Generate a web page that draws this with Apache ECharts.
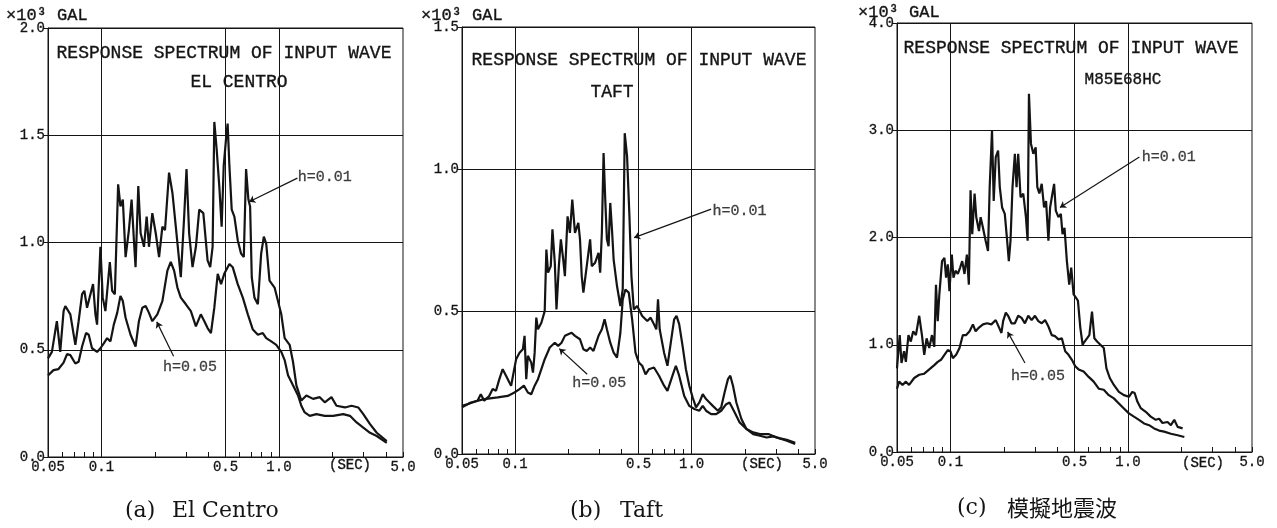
<!DOCTYPE html>
<html>
<head>
<meta charset="utf-8">
<title>Response spectrum of input wave</title>
<script src="https://cdn.jsdelivr.net/npm/echarts@6/dist/echarts.min.js"></script>
<style>
  html, body { margin: 0; padding: 0; background: #fff; }
  #main { width: 1277px; height: 528px; }
</style>
</head>
<body>
<div id="main"></div>
<script>
// ---- axis ticks (period, sec) ----
var xTickValues = [0.05, 0.06, 0.07, 0.08, 0.09, 0.1, 0.2, 0.3, 0.4, 0.5, 0.6, 0.7, 0.8, 0.9, 1, 2, 3, 4, 5];
var xLabelValues = [0.05, 0.1, 0.5, 1.0, 5.0];
var xLabelText = ['0.05', '0.1', '0.5', '1.0', '5.0'];
var xGridValues = [0.1, 0.5, 1.0];

// ---- (a) El Centro ----
var elCentroT01 = [0.05,0.0526,0.0549,0.0561,0.0586,0.0612,0.0626,0.0668,0.0713,0.0744,
  0.0778,0.0801,0.083,0.0867,0.0897,0.0925,0.0945,0.0987,0.1017,0.1053,
  0.1115,0.1149,0.119,0.1242,0.128,0.132,0.1368,0.1428,0.1479,0.1524,
  0.1557,0.1613,0.1663,0.1737,0.1798,0.1853,0.1935,0.2023,0.2112,0.2205,
  0.2281,0.2404,0.2512,0.2624,0.28,0.2925,0.3015,0.312,0.326,0.3406,
  0.3557,0.375,0.3963,0.41,0.423,0.4325,0.4457,0.4613,0.4756,0.4885,
  0.5035,0.514,0.526,0.542,0.561,0.586,0.612,0.634,0.653,0.673,
  0.688,0.703,0.728,0.761,0.794,0.822,0.848,0.885,0.945,0.987,
  1.031,1.077,1.149,1.2,1.254,1.337,1.428,1.557,1.698,1.812,
  1.977,2.11,2.354,2.566,2.798,2.987,3.26,3.556,4.05];
var elCentroA01 = [0.46,0.49,0.586,0.633,0.49,0.68,0.704,0.665,0.523,0.633,
  0.759,0.775,0.696,0.759,0.806,0.665,0.617,0.98,0.743,0.68,
  0.909,0.775,0.759,1.271,1.168,1.2,0.932,1.058,1.2,1.011,
  0.885,1.263,1.043,0.98,1.121,0.98,1.137,1.043,0.932,1.074,
  1.058,1.326,1.231,1.074,0.838,1.121,1.342,1.043,0.885,0.98,
  1.153,1.137,0.917,0.885,0.98,1.562,1.436,1.263,1.074,1.357,
  1.483,1.554,1.357,1.153,1.121,1.011,0.948,0.932,1.342,1.2,
  1.168,0.838,0.743,0.712,0.948,1.027,0.995,0.822,0.79,0.728,
  0.665,0.554,0.523,0.444,0.334,0.263,0.287,0.271,0.279,0.255,
  0.279,0.239,0.231,0.239,0.231,0.2,0.153,0.113,0.074];
var elCentroT05 = [0.05,0.0537,0.0573,0.0612,0.064,0.0668,0.0713,0.0744,0.0778,0.0819,
  0.0848,0.0885,0.0945,0.0987,0.1031,0.1077,0.1124,0.1174,0.1227,0.128,
  0.132,0.1368,0.1459,0.1557,0.1626,0.17,0.1775,0.1853,0.1935,0.2065,
  0.2205,0.2353,0.2458,0.2567,0.268,0.28,0.299,0.319,0.3406,0.363,
  0.38,0.3963,0.414,0.4325,0.452,0.472,0.492,0.526,0.549,0.586,
  0.626,0.668,0.713,0.761,0.811,0.848,0.905,0.966,1.031,1.077,
  1.125,1.2,1.281,1.337,1.397,1.492,1.626,1.812,2.02,2.303,
  2.512,2.74,2.987,3.26,3.556,4.05];
var elCentroA05 = [0.38,0.405,0.41,0.44,0.48,0.475,0.436,0.444,0.515,0.578,
  0.57,0.507,0.49,0.507,0.53,0.554,0.539,0.617,0.672,0.751,
  0.727,0.649,0.57,0.515,0.633,0.696,0.704,0.672,0.633,0.665,
  0.727,0.869,0.909,0.869,0.79,0.743,0.712,0.68,0.609,0.665,
  0.633,0.601,0.578,0.696,0.854,0.806,0.854,0.9,0.885,0.806,
  0.743,0.665,0.594,0.57,0.578,0.554,0.539,0.523,0.49,0.452,
  0.381,0.334,0.287,0.239,0.208,0.192,0.2,0.192,0.192,0.2,
  0.192,0.161,0.137,0.113,0.098,0.066];

// ---- (b) Taft ----
var taftT01 = [0.05,0.0536,0.0573,0.0612,0.0639,0.0668,0.0713,0.0746,0.0779,0.0814,
  0.085,0.0888,0.0928,0.0949,0.1013,0.1059,0.1106,0.1131,0.1156,0.1181,
  0.1234,0.1262,0.129,0.1318,0.1347,0.1408,0.1471,0.1503,0.1537,0.1592,
  0.1627,0.1678,0.1715,0.1769,0.1816,0.1873,0.1914,0.1982,0.2044,0.2108,
  0.2183,0.2281,0.2331,0.2384,0.2436,0.2545,0.266,0.2718,0.284,0.2968,
  0.3033,0.31,0.317,0.324,0.3311,0.3384,0.3459,0.3537,0.3615,0.3777,
  0.3947,0.407,0.4178,0.4308,0.4442,0.456,0.4703,0.4914,0.5248,0.5607,
  0.5858,0.6119,0.631,0.645,0.6592,0.698,0.7294,0.762,0.796,0.821,
  0.85,0.8885,0.928,0.97,1.013,1.059,1.106,1.156,1.207,1.262,
  1.318,1.408,1.471,1.537,1.606,1.656,1.715,1.792,1.914,2.044,
  2.232,2.436,2.66,2.904,3.17,3.46,3.86];
var taftA01 = [0.169,0.175,0.181,0.187,0.21,0.187,0.204,0.228,0.222,0.263,
  0.298,0.275,0.251,0.24,0.333,0.356,0.368,0.415,0.263,0.345,
  0.321,0.286,0.356,0.479,0.438,0.461,0.502,0.718,0.637,0.66,
  0.789,0.672,0.508,0.66,0.754,0.683,0.625,0.835,0.777,0.894,
  0.777,0.812,0.754,0.625,0.567,0.66,0.754,0.66,0.672,0.707,
  0.637,0.777,1.057,0.894,0.754,0.73,0.882,0.789,0.683,0.59,
  0.52,0.578,1.127,1.046,0.835,0.625,0.508,0.52,0.485,0.467,
  0.479,0.456,0.438,0.543,0.438,0.356,0.31,0.391,0.473,0.485,
  0.456,0.38,0.298,0.24,0.199,0.164,0.181,0.21,0.193,0.181,
  0.169,0.152,0.164,0.216,0.263,0.275,0.24,0.181,0.123,0.088,
  0.07,0.064,0.058,0.062,0.055,0.05,0.039];
var taftT05 = [0.05,0.0561,0.0668,0.0796,0.0908,0.0991,0.1059,0.1121,0.1181,0.1234,
  0.129,0.1347,0.1408,0.1471,0.1571,0.1678,0.1753,0.1832,0.1914,0.2089,
  0.2183,0.2331,0.2436,0.2545,0.266,0.2779,0.2968,0.31,0.3212,0.3311,
  0.3459,0.3615,0.3777,0.3947,0.407,0.4215,0.4404,0.4602,0.4808,0.5023,
  0.5248,0.5483,0.5731,0.6119,0.6535,0.698,0.7294,0.779,0.814,0.85,
  0.908,0.97,1.036,1.106,1.156,1.207,1.29,1.377,1.471,1.57,
  1.64,1.754,1.871,2.044,2.232,2.436,2.72,3.03,3.46,3.86];
var taftA05 = [0.164,0.181,0.193,0.199,0.204,0.216,0.228,0.24,0.216,0.21,
  0.24,0.263,0.298,0.333,0.374,0.391,0.38,0.391,0.415,0.426,
  0.415,0.403,0.368,0.362,0.374,0.362,0.415,0.438,0.473,0.438,
  0.391,0.356,0.339,0.426,0.543,0.578,0.567,0.473,0.356,0.321,
  0.31,0.28,0.298,0.304,0.275,0.24,0.222,0.275,0.31,0.275,
  0.204,0.169,0.158,0.152,0.169,0.152,0.14,0.14,0.152,0.175,
  0.181,0.146,0.111,0.088,0.076,0.07,0.07,0.058,0.047,0.035];

// ---- (c) simulated wave M85E68HC ----
var simT01 = [0.05,0.0518,0.053,0.0548,0.0561,0.058,0.0598,0.0617,0.0639,0.0667,
  0.0691,0.0712,0.0734,0.076,0.0787,0.0811,0.0829,0.0848,0.0866,0.0897,
  0.0925,0.0945,0.0966,0.0987,0.1018,0.104,0.1068,0.1101,0.1134,0.1165,
  0.12,0.1238,0.127,0.1298,0.1327,0.1368,0.1398,0.1448,0.148,0.1525,
  0.1579,0.1628,0.1664,0.1715,0.1753,0.18,0.1856,0.1897,0.1955,0.2024,
  0.2087,0.2133,0.218,0.2237,0.2307,0.2358,0.2409,0.2484,0.2572,0.2663,
  0.2722,0.2769,0.2842,0.2931,0.3021,0.3087,0.3169,0.3268,0.3369,0.3458,
  0.3565,0.3643,0.3756,0.3838,0.3923,0.4061,0.4188,0.428,0.4393,0.4529,
  0.4669,0.4792,0.4941,0.5093,0.5228,0.5391,0.5557,0.5703,0.5881,0.6062,
  0.6275,0.6471,0.6701,0.6998,0.7309,0.7568,0.7904,0.833,0.8892,0.9491,
  1.013,1.058,1.091,1.13,1.18,1.26,1.344,1.435,1.499,1.566,
  1.672,1.746,1.824,1.905,2.033];
var simA01 = [0.78,1.09,0.83,0.94,0.84,1.09,1.03,1.125,1.09,1.27,
  1.09,0.906,1.06,0.97,1.09,0.98,1.56,1.22,1.47,1.78,
  1.81,1.625,1.75,1.5,1.84,1.625,1.69,1.66,1.72,1.78,
  1.66,1.84,1.56,2.44,2.03,2.41,2.19,2.06,2.19,2.09,
  1.97,1.875,2.47,3.0,2.34,2.75,2.81,2.47,2.28,2.22,
  1.97,1.78,1.97,2.47,2.78,2.47,2.78,2.375,2.41,2.19,
  1.97,3.34,2.875,2.78,2.84,2.47,2.41,2.5,2.28,2.34,
  1.97,2.28,2.41,2.5,2.25,2.19,2.22,2.03,2.09,1.78,
  1.56,1.72,1.47,1.44,1.41,1.16,1.0,1.03,1.06,1.09,
  1.31,1.06,1.03,1.0,0.97,0.78,0.69,0.625,0.56,0.53,
  0.515,0.56,0.55,0.47,0.41,0.375,0.33,0.3,0.31,0.27,
  0.28,0.25,0.3,0.234,0.22];
var simT05 = [0.05,0.0514,0.0537,0.0561,0.0585,0.0625,0.0667,0.0712,0.076,0.0811,
  0.0848,0.0885,0.0925,0.0966,0.1,0.1031,0.1077,0.1125,0.1175,0.1227,
  0.1282,0.1339,0.1386,0.1448,0.1525,0.1607,0.1701,0.18,0.188,0.1938,
  0.1981,0.2051,0.2114,0.2208,0.2307,0.2409,0.2516,0.2628,0.2745,0.2867,
  0.2995,0.3128,0.3268,0.3413,0.3565,0.3723,0.3889,0.4061,0.4243,0.4432,
  0.4628,0.4834,0.5049,0.5274,0.563,0.6009,0.6413,0.6847,0.7309,0.7801,
  0.833,0.8892,0.9491,1.013,1.081,1.154,1.232,1.316,1.404,1.499,
  1.6,1.746,1.905,2.078];
var simA05 = [0.59,0.656,0.625,0.656,0.625,0.69,0.72,0.73,0.77,0.81,
  0.84,0.86,0.906,0.95,0.94,0.875,0.906,0.97,1.09,1.09,
  1.125,1.19,1.125,1.16,1.19,1.2,1.19,1.23,1.16,1.11,
  1.22,1.3,1.27,1.2,1.2,1.27,1.25,1.2,1.27,1.23,
  1.27,1.22,1.2,1.23,1.17,1.09,1.08,1.05,1.06,0.94,
  0.906,0.86,0.8,0.77,0.75,0.7,0.656,0.59,0.58,0.53,
  0.5,0.453,0.406,0.36,0.33,0.3,0.266,0.25,0.22,0.2,
  0.19,0.17,0.156,0.14];

// leader notes: label anchor, line start, line tip
var elCentroNotes = [
  { text: 'h=0.01', at: [1.81, 1.305], from: [1.27, 1.30], to: [0.68, 1.19] },
  { text: 'h=0.05', at: [0.315, 0.42], from: [0.255, 0.47], to: [0.205, 0.63] }
];
var taftNotes = [
  { text: 'h=0.01', at: [1.87, 0.855], from: [1.29, 0.86], to: [0.472, 0.76] },
  { text: 'h=0.05', at: [0.30, 0.249], from: [0.256, 0.28], to: [0.178, 0.37] }
];
var simNotes = [
  { text: 'h=0.01', at: [1.70, 2.75], from: [1.16, 2.75], to: [0.414, 2.28] },
  { text: 'h=0.05', at: [0.311, 0.71], from: [0.263, 0.83], to: [0.21, 1.12] }
];

var ink = '#141414';
var mono = '"Liberation Mono", "DejaVu Sans Mono", monospace';
var serif = '"DejaVu Serif", "Liberation Serif", serif';

var chart = echarts.init(document.getElementById('main'));

var panels = [
  { left: 48, top: 28, width: 355, height: 429, yMax: 2.0, yStep: 0.5,
    s01: [elCentroT01, elCentroA01], s05: [elCentroT05, elCentroA05], notes: elCentroNotes },
  { left: 462, top: 27, width: 353, height: 427, yMax: 1.5, yStep: 0.5,
    s01: [taftT01, taftA01], s05: [taftT05, taftA05], notes: taftNotes },
  { left: 897, top: 23, width: 355, height: 429, yMax: 4.0, yStep: 1.0,
    s01: [simT01, simA01], s05: [simT05, simA05], notes: simNotes }
];

function zip(ts, vs) {
  return ts.map(function (t, i) { return [t, vs[i]]; });
}

var grids = [], xAxes = [], yAxes = [], series = [];

panels.forEach(function (p, i) {
  grids.push({
    left: p.left, top: p.top, width: p.width, height: p.height,
    show: true, borderColor: ink, borderWidth: 1, backgroundColor: 'transparent'
  });
  xAxes.push({
    type: 'log', logBase: 10, gridIndex: i, min: 0.05, max: 5,
    axisLine: { show: true, lineStyle: { color: ink, width: 1 } },
    axisTick: { show: true, inside: true, length: 5, customValues: xTickValues,
      lineStyle: { color: ink, width: 1 } },
    axisLabel: {
      customValues: xLabelValues, margin: 3,
      color: ink, fontFamily: mono, fontSize: 14,
      textBorderColor: ink, textBorderWidth: 0.3,
      formatter: function (v) {
        var k = xLabelValues.indexOf(+v);
        return k >= 0 ? xLabelText[k] : '';
      }
    },
    splitLine: { show: false },
    minorTick: { show: false }
  });
  yAxes.push({
    type: 'value', gridIndex: i, min: 0, max: p.yMax, interval: p.yStep,
    axisLine: { show: true, lineStyle: { color: ink, width: 1 } },
    axisTick: { show: true, inside: false, length: 5, lineStyle: { color: ink } },
    axisLabel: { color: ink, fontFamily: mono, fontSize: 14, margin: 3,
      textBorderColor: ink, textBorderWidth: 0.3,
      formatter: function (v) { return v.toFixed(1); } },
    splitLine: { show: true, lineStyle: { color: ink, width: 1 } }
  });

  series.push({
    type: 'line', xAxisIndex: i, yAxisIndex: i, name: 'h=0.01',
    data: zip(p.s01[0], p.s01[1]), showSymbol: false, symbol: 'none',
    lineStyle: { color: ink, width: 2.2 }, z: 3,
    markLine: {
      silent: true, symbol: 'none', label: { show: false },
      lineStyle: { color: ink, width: 1, type: 'solid' },
      data: xGridValues.map(function (v) { return { xAxis: v }; })
    }
  });
  series.push({
    type: 'line', xAxisIndex: i, yAxisIndex: i, name: 'h=0.05',
    data: zip(p.s05[0], p.s05[1]), showSymbol: false, symbol: 'none',
    lineStyle: { color: ink, width: 2.2 }, z: 3
  });
  // annotation labels with leader lines
  series.push({
    type: 'scatter', xAxisIndex: i, yAxisIndex: i, symbolSize: 1, silent: true,
    itemStyle: { color: 'rgba(0,0,0,0)' },
    data: p.notes.map(function (n) { return { name: n.text, value: n.at }; }),
    label: { show: true, position: 'inside', formatter: '{b}',
      color: ink, fontFamily: mono, fontSize: 15, textBorderColor: ink, textBorderWidth: 0.3 },
    markLine: {
      silent: true, symbol: ['none', 'arrow'], symbolSize: 6,
      label: { show: false },
      lineStyle: { color: ink, width: 1.2, type: 'solid' },
      data: p.notes.map(function (n) { return [{ coord: n.from }, { coord: n.to }]; })
    }
  });
});

function txt(x, y, text, font, align, heavy) {
  return { type: 'text', x: x, y: y, silent: true,
    style: { text: text, font: font, fill: ink, textAlign: align || 'center', textVerticalAlign: 'middle',
      stroke: heavy ? ink : null, lineWidth: heavy ? 0.35 : 0 } };
}

var graphics = [
  txt(6, 15, '×10³ GAL', '17px ' + mono, 'left', true),
  txt(421, 15, '×10³ GAL', '17px ' + mono, 'left', true),
  txt(858, 12, '×10³ GAL', '17px ' + mono, 'left', true),
  txt(224, 53, 'RESPONSE SPECTRUM OF INPUT WAVE', '18px ' + mono, 'center', true),
  txt(639, 60, 'RESPONSE SPECTRUM OF INPUT WAVE', '18px ' + mono, 'center', true),
  txt(1071, 48, 'RESPONSE SPECTRUM OF INPUT WAVE', '18px ' + mono, 'center', true),
  txt(239, 82, 'EL CENTRO', '18px ' + mono, 'center', true),
  txt(612, 92, 'TAFT', '18px ' + mono, 'center', true),
  txt(1123, 80, 'M85E68HC', '16px ' + mono, 'center', true),
  txt(350, 465, '(SEC)', '14px ' + mono, 'center', true),
  txt(762, 464, '(SEC)', '14px ' + mono, 'center', true),
  txt(1203, 463, '(SEC)', '14px ' + mono, 'center', true),
  txt(125, 511, '(a)', '22px ' + serif, 'left'),
  txt(172, 511, 'El Centro', '22px ' + serif, 'left'),
  txt(570, 511, '(b)', '22px ' + serif, 'left'),
  txt(620, 511, 'Taft', '22px ' + serif, 'left'),
  txt(957, 508, '(c)', '22px ' + serif, 'left'),
  txt(1007, 508, '模擬地震波', '22px "Noto Sans CJK JP", sans-serif', 'left')
];

chart.setOption({
  backgroundColor: '#fff',
  animation: false,
  grid: grids,
  xAxis: xAxes,
  yAxis: yAxes,
  series: series,
  graphic: graphics
});
</script>
</body>
</html>
